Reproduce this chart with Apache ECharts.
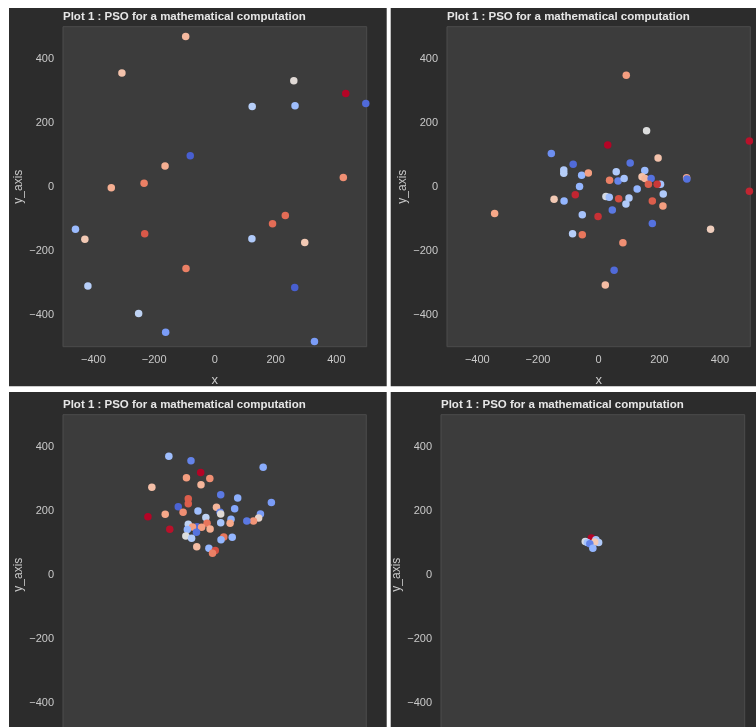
<!DOCTYPE html>
<html><head><meta charset="utf-8">
<script src="https://cdn.jsdelivr.net/npm/echarts@6/dist/echarts.min.js"></script>
<style>html,body{margin:0;padding:0;background:#fff}#c{width:756px;height:727px}</style>
</head><body><div id="c"></div>
<script>
const titleText = 'Plot 1 : PSO for a mathematical computation';
const xName = 'x';
const yName = 'y_axis';
const xTicks = [-400, -200, 0, 200, 400];
const yTicks = [-400, -200, 0, 200, 400];
const coolwarm = ['#3b4cc0','#5572df','#7396f5','#94b6ff','#b7cff9','#dcdddd','#f2c9b4','#f7a889','#e8765c','#cf453c','#b40426'];

// [x, y, colourValue]
const panel1 = [
  [-96,469,0.65],[-306,355,0.62],[260,331,0.52],[431,291,1.0],[497,260,0.08],
  [123,251,0.4],[264,253,0.33],[-81,97,0.05],[-164,65,0.68],[-341,-3,0.68],
  [-233,11,0.78],[423,29,0.75],[232,-90,0.82],[190,-116,0.82],[-459,-133,0.32],
  [-428,-164,0.6],[-231,-147,0.86],[122,-163,0.38],[296,-174,0.6],[-95,-256,0.78],
  [-418,-310,0.4],[263,-315,0.05],[-251,-396,0.42],[-162,-455,0.22],[328,-484,0.22]
];
const panel2 = [
  [30,130,1.0],[-156,104,0.18],[-84,70,0.08],[104,74,0.1],[196,90,0.62],
  [-115,52,0.38],[-115,42,0.4],[-56,36,0.3],[-34,43,0.72],[58,47,0.38],
  [152,51,0.32],[36,20,0.78],[64,18,0.15],[84,26,0.35],[143,31,0.62],
  [153,26,0.66],[173,26,0.1],[164,8,0.85],[204,8,0.35],[193,8,0.92],
  [290,28,0.7],[291,24,0.1],[-63,1,0.3],[127,-7,0.3],[213,-23,0.38],
  [-77,-25,0.95],[-147,-39,0.6],[-114,-45,0.3],[24,-31,0.48],[35,-33,0.33],
  [66,-38,0.88],[100,-35,0.38],[90,-54,0.38],[177,-45,0.85],[212,-60,0.72],
  [45,-73,0.12],[-54,-88,0.35],[-2,-93,0.93],[177,-115,0.1],[-86,-147,0.4],
  [-54,-150,0.8],[80,-175,0.75],[91,348,0.72],[158,175,0.5],[497,143,0.98],
  [497,-14,0.95],[-343,-84,0.7],[369,-133,0.58],[51,-261,0.08],[22,-307,0.64]
];
const panel3 = [
  [-151,370,0.33],[-78,356,0.15],[160,336,0.27],[-46,319,1.0],[-93,303,0.72],
  [-16,301,0.75],[-45,281,0.66],[-207,273,0.63],[20,250,0.12],[76,240,0.28],
  [-87,237,0.85],[-87,222,0.85],[187,226,0.22],[-120,212,0.06],[66,206,0.25],
  [6,211,0.66],[-55,199,0.33],[-104,195,0.75],[-220,181,1.0],[-163,189,0.7],
  [18,195,0.15],[20,190,0.52],[-29,179,0.42],[151,190,0.22],[145,177,0.55],
  [128,168,0.74],[106,168,0.12],[54,173,0.28],[51,161,0.7],[20,162,0.35],
  [-25,161,0.8],[-87,158,0.42],[-58,150,0.08],[-73,149,0.72],[-43,148,0.72],
  [-15,143,0.68],[-90,141,0.3],[-148,142,0.98],[-60,133,0.1],[-95,121,0.5],
  [-76,114,0.38],[30,118,0.8],[21,109,0.3],[58,117,0.3],[-59,87,0.64],
  [-19,83,0.3],[2,76,0.88],[-7,67,0.78]
];
const panel4 = [
  [-5,115,1.0],[10,109,0.35],[-25,104,0.48],[19,101,0.38],[6,102,0.6],
  [-18,101,0.35],[-10,97,0.15],[0,83,0.3]
];

const panels = [panel1, panel2, panel3, panel4];
const grids = [
  {left: 63, top: 26.7, width: 303.7, height: 320},
  {left: 447, top: 26.7, width: 303.3, height: 320},
  {left: 63, top: 414.7, width: 303.3, height: 320},
  {left: 441, top: 414.7, width: 303.7, height: 320}
];
const FONT = '"Liberation Sans", Arial, sans-serif';
const labelColor = '#c9c9c9';
const fmt = v => String(v).replace('-', '\u2212');

const chart = echarts.init(document.getElementById('c'), null, {renderer: 'canvas'});
const option = {
  backgroundColor: '#2c2c2c',
  animation: false,
  title: grids.map(g => ({
    text: titleText, left: g.left, top: g.top - 16, padding: 0,
    textStyle: {color: '#e6e6e6', fontSize: 11.5, fontWeight: 'bold', fontFamily: FONT}
  })),
  graphic: [
    {type: 'rect', shape: {x: 0, y: 0, width: 756, height: 8}, style: {fill: '#fff'}, silent: true},
    {type: 'rect', shape: {x: 0, y: 0, width: 9, height: 727}, style: {fill: '#fff'}, silent: true},
    {type: 'rect', shape: {x: 386.7, y: 0, width: 4, height: 727}, style: {fill: '#fff'}, silent: true},
    {type: 'rect', shape: {x: 0, y: 386.3, width: 756, height: 5.7}, style: {fill: '#fff'}, silent: true}
  ],
  grid: grids.map(g => Object.assign({
    show: true, backgroundColor: '#3c3c3c', borderColor: '#4c4c4c', borderWidth: 1,
    containLabel: false, outerBoundsMode: 'none'
  }, g)),
  xAxis: grids.map((g, i) => ({
    type: 'value', gridIndex: i, min: -500, max: 500,
    name: xName, nameLocation: 'middle', nameGap: 27,
    nameTextStyle: {color: labelColor, fontSize: 13, fontFamily: FONT},
    axisLine: {show: false}, axisTick: {show: false}, splitLine: {show: false},
    axisLabel: {customValues: xTicks, formatter: fmt, color: labelColor, fontSize: 11, fontFamily: FONT, margin: 8}
  })),
  yAxis: grids.map((g, i) => ({
    type: 'value', gridIndex: i, min: -500, max: 500,
    name: yName, nameLocation: 'middle', nameGap: 38,
    nameTextStyle: {color: labelColor, fontSize: 12, fontFamily: FONT},
    axisLine: {show: false}, axisTick: {show: false}, splitLine: {show: false},
    axisLabel: {customValues: yTicks, formatter: fmt, color: labelColor, fontSize: 11, fontFamily: FONT, margin: 9}
  })),
  visualMap: {
    show: false, type: 'continuous', min: 0, max: 1, dimension: 2,
    seriesIndex: [0, 1, 2, 3], inRange: {color: coolwarm}
  },
  series: panels.map((p, i) => ({
    type: 'scatter', xAxisIndex: i, yAxisIndex: i, data: p,
    symbolSize: 7.5, itemStyle: {opacity: 1, borderWidth: 0}
  }))
};
chart.setOption(option);
</script>
</body></html>
